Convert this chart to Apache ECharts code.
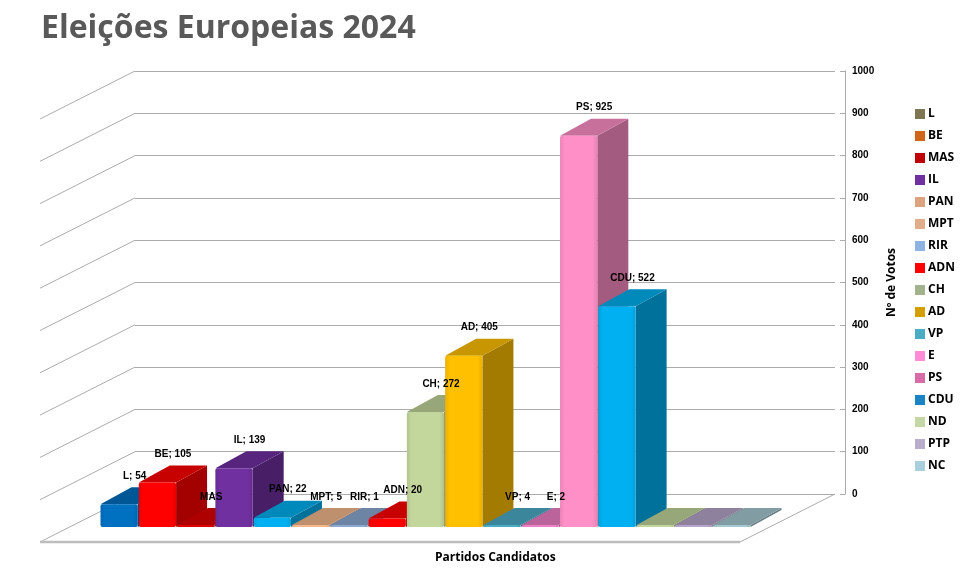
<!DOCTYPE html>
<html lang="pt">
    <head>
        <meta charset="utf-8">
        <script src="https://cdn.jsdelivr.net/npm/echarts@6.0.0/dist/echarts.min.js"></script>
        <title>Eleições Europeias 2024</title>
        <style>
            body { margin: 0; background: #fff; }
            #grafico { width: 971px; height: 568px; }
        </style>
    </head>
    <body>
        <div id="grafico"></div>
        <script>
            // dados
            var partidos = ['L','BE','MAS','IL','PAN','MPT','RIR','ADN','CH','AD','VP','E','PS','CDU','ND','PTP','NC'];
            var votos = [54,105,0,139,22,5,1,20,272,405,4,2,925,522,0,0,0];
            var soNome = ['MAS'];             // rótulo só com o nome
            var semRotulo = ['ND','PTP','NC']; // sem rótulo
            var marcasY = [0,100,200,300,400,500,600,700,800,900,1000];

            // cor da face da frente de cada barra
            var corBarra = ['#0070C0','#FF0000','#E00000','#7030A0','#00B0F0','#F5B88C','#8DA9D4','#FF0000',
                            '#C3D69B','#FFC000','#4BACC6','#F080C8','#FF8FC7','#00B0F0','#C3D69B','#B6A6C9','#A5C8D1'];
            // cor na legenda
            var corLegenda = ['#7D7650','#D0661A','#C00000','#7030A0','#DBA37F','#E0AC8A','#8DB4E2','#FF0000',
                              '#A3B38D','#D4A000','#4BACC6','#FF8AD8','#D96BA8','#1A84C6','#C4D7A5','#B9ADCB','#A9CFDC'];

            var prof = [31, -17];      // profundidade da barra
            var chao = [-95, 48];      // profundidade do chão / parede

            function sombra(hex, f) {
                var n = parseInt(hex.slice(1), 16);
                var r = Math.round(((n >> 16) & 255) * f);
                var g = Math.round(((n >> 8) & 255) * f);
                var b = Math.round((n & 255) * f);
                return 'rgb(' + r + ',' + g + ',' + b + ')';
            }

            // caixa da face da frente de uma barra
            function caixa(api) {
                var i = api.value(0), v = api.value(1);
                var base = api.coord([i, 0]);
                var topo = api.coord([i, v]);
                var w = api.size([1, 0])[0] - 1;
                return {i: i, v: v, x0: base[0] - w / 2, x1: base[0] + w / 2, w: w,
                        yb: base[1], yt: Math.min(topo[1], base[1] - 2)};
            }

            function desenhaBarra(params, api) {
                var b = caixa(api);
                var dx = prof[0], dy = prof[1];
                var c = corBarra[b.i];
                return {type: 'group', children: [
                    {type: 'polygon', shape: {points: [[b.x1, b.yb], [b.x1 + dx, b.yb + dy], [b.x1 + dx, b.yt + dy], [b.x1, b.yt]]},
                     style: {fill: sombra(c, 0.64)}},
                    {type: 'polygon', shape: {points: [[b.x0, b.yt], [b.x1, b.yt], [b.x1 + dx, b.yt + dy], [b.x0 + dx, b.yt + dy]]},
                     style: {fill: sombra(c, 0.78)}},
                    {type: 'rect', shape: {x: b.x0, y: b.yt, width: b.w, height: b.yb - b.yt, r: 2},
                     style: {fill: new echarts.graphic.LinearGradient(0, 0, 1, 0, [
                         {offset: 0, color: sombra(c, 0.92)}, {offset: 0.12, color: c},
                         {offset: 0.88, color: c}, {offset: 1, color: sombra(c, 0.9)}])}}
                ]};
            }

            function desenhaRotulo(params, api) {
                var b = caixa(api);
                var nome = partidos[b.i];
                if (semRotulo.indexOf(nome) >= 0) return null;
                var txt = soNome.indexOf(nome) >= 0 ? nome : nome + '; ' + b.v;
                return {type: 'text', x: (b.x0 + b.x1) / 2 + prof[0] / 2, y: b.yt + prof[1] - 11,
                        style: {text: txt, align: 'center', verticalAlign: 'middle', fill: '#000',
                                font: 'bold 10px "Liberation Sans"'}};
            }

            function desenhaParede(params, api) {
                var v = api.value(0);
                var p = api.coord([0, v]);
                var x = p[0] - api.size([1, 0])[0] / 2;
                return {type: 'line', silent: true,
                        shape: {x1: x, y1: p[1], x2: x + chao[0], y2: p[1] + chao[1]},
                        style: {stroke: '#ABABAB', lineWidth: 1}};
            }

            function desenhaChao(params, api) {
                var esq = api.coord([0, 0]);
                var dir = api.coord([partidos.length - 1, 0]);
                var meia = api.size([1, 0])[0] / 2;
                var xa = esq[0] - meia, xb = dir[0] + meia, y = esq[1];
                return {type: 'group', silent: true, children: [
                    {type: 'line', shape: {x1: xb, y1: y, x2: xb + chao[0], y2: y + chao[1]},
                     style: {stroke: '#ABABAB', lineWidth: 1}},
                    {type: 'line', shape: {x1: xa + chao[0], y1: y + chao[1], x2: xb + chao[0], y2: y + chao[1]},
                     style: {stroke: '#BDBDBD', lineWidth: 2.5}}
                ]};
            }

            var series = [
                {type: 'custom', name: 'parede', xAxisIndex: 0, yAxisIndex: 0, silent: true, z: 1,
                 data: marcasY.map(function (m) { return [m]; }), encode: {y: 0}, renderItem: desenhaParede},
                {type: 'custom', name: 'chao', xAxisIndex: 0, yAxisIndex: 0, silent: true, z: 1,
                 data: [[0]], renderItem: desenhaChao}
            ];
            partidos.forEach(function (p, i) {
                series.push({
                    type: 'custom', name: p, xAxisIndex: 1, yAxisIndex: 1, z: 3,
                    itemStyle: {color: corLegenda[i]},
                    data: [[i, votos[i]]],
                    encode: {x: 0, y: 1},
                    renderItem: desenhaBarra
                });
            });
            // rótulos por cima de todas as barras
            series.push({
                type: 'custom', name: 'rotulos', xAxisIndex: 1, yAxisIndex: 1, z: 6, silent: true,
                data: partidos.map(function (p, i) { return [i, votos[i]]; }),
                encode: {x: 0, y: 1},
                renderItem: desenhaRotulo
            });

            var grafico = echarts.init(document.getElementById('grafico'));
            grafico.setOption({
                animation: false,
                title: [
                    {text: 'Eleições Europeias 2024', left: 36, top: 8,
                     textStyle: {fontFamily: 'Open Sans', fontWeight: 'bold', fontSize: 32, color: '#595959'}},
                    {text: 'Partidos Candidatos', left: 430, top: 547,
                     textStyle: {fontFamily: 'Open Sans', fontWeight: 'bold', fontSize: 12, color: '#000'}}
                ],
                legend: {
                    data: partidos, orient: 'vertical', left: 910, top: 102,
                    icon: 'rect', itemWidth: 10, itemHeight: 10, itemGap: 8,
                    textStyle: {fontFamily: 'Open Sans', fontWeight: 'bold', fontSize: 12, lineHeight: 14, color: '#000', padding: [0, 0, 0, -2]}
                },
                grid: [
                    {left: 135, right: 136, top: 71, bottom: 74},
                    {left: 100, right: 220, top: 104, bottom: 41}
                ],
                xAxis: [
                    {type: 'category', gridIndex: 0, data: partidos, show: false},
                    {type: 'category', gridIndex: 1, data: partidos, show: false}
                ],
                yAxis: [
                    {type: 'value', gridIndex: 0, position: 'right', offset: 10, min: 0, max: 1000, interval: 100,
                     name: 'Nº de Votos', nameLocation: 'middle', nameRotate: 90, nameGap: 36,
                     nameTextStyle: {fontFamily: 'Open Sans', fontWeight: 'bold', fontSize: 12, color: '#000'},
                     axisLine: {show: true, lineStyle: {color: '#ABABAB'}},
                     axisTick: {show: true, inside: true, length: 5, lineStyle: {color: '#ABABAB'}},
                     axisLabel: {margin: 7, fontFamily: 'Liberation Sans', fontWeight: 'bold', fontSize: 10, color: '#000',
                                 formatter: function (v) { return String(v); }},
                     splitLine: {lineStyle: {color: '#ABABAB', width: 1}}},
                    {type: 'value', gridIndex: 1, min: 0, max: 1000, show: false, splitLine: {show: false}}
                ],
                series: series
            });
        </script>
    </body>
</html>
